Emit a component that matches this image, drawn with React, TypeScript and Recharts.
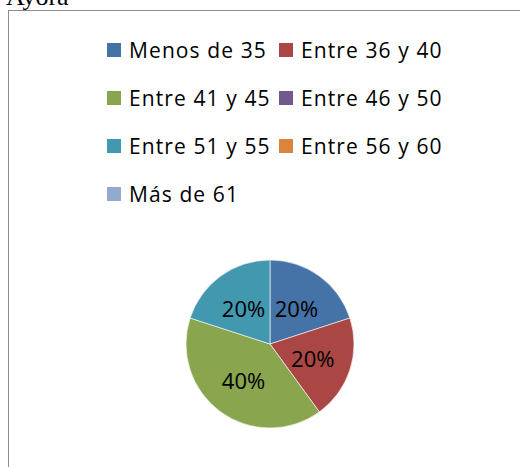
import { PieChart, Pie, Cell, Legend } from "recharts";

const categories = [
  "Menos de 35",
  "Entre 36 y 40",
  "Entre 41 y 45",
  "Entre 46 y 50",
  "Entre 51 y 55",
  "Entre 56 y 60",
  "Más de 61",
];
const counts = [1, 1, 2, 0, 1, 0, 0];
const colors = ["#4572A7", "#AA4643", "#89A54E", "#71588F", "#4198AF", "#DB843D", "#93A9CF"];

const total = counts.reduce((a, b) => a + b, 0);
const data = categories.map((name, i) => ({ name, value: counts[i] }));

const FONT = "'Open Sans', 'Noto Sans', sans-serif";
const RAD = Math.PI / 180;

function renderLabel(props: any) {
  const { cx, cy, midAngle, value } = props;
  if (!value) return null;
  const r = 45;
  const x = cx + r * Math.cos(-midAngle * RAD);
  const y = cy + r * Math.sin(-midAngle * RAD);
  return (
    <text
      x={x}
      y={y}
      textAnchor="middle"
      dominantBaseline="central"
      fill="#000"
      style={{ fontFamily: FONT, fontSize: 22 }}
    >
      {`${Math.round((value / total) * 100)}%`}
    </text>
  );
}

function LegendBox() {
  return (
    <div style={{ position: "relative", width: 500, height: 220 }}>
      {categories.map((name, i) => {
        const col = i % 2;
        const row = Math.floor(i / 2);
        const left = col === 0 ? 107 : 279;
        const top = 50 + row * 48;
        return (
          <div
            key={name}
            style={{
              position: "absolute",
              left,
              top: top - 15,
              height: 30,
              display: "flex",
              alignItems: "center",
              whiteSpace: "nowrap",
            }}
          >
            <span
              style={{
                display: "inline-block",
                width: 14,
                height: 14,
                background: colors[i],
                marginRight: 8,
              }}
            />
            <span
              style={{
                fontFamily: FONT,
                fontSize: 21,
                letterSpacing: 1.1,
                color: "#000",
              }}
            >
              {name}
            </span>
          </div>
        );
      })}
    </div>
  );
}

export default function App() {
  return (
    <div style={{ position: "fixed", left: 0, top: 0, width: 523, height: 467, background: "#fff", overflow: "hidden" }}>
      <div
        style={{
          position: "absolute",
          left: 6,
          top: -18,
          fontFamily: "'Liberation Serif', 'Times New Roman', serif",
          fontSize: 26,
          lineHeight: "30px",
          color: "#000",
        }}
      >
        Ayora
      </div>
      {/* frame: only the top and left edges are in view */}
      <div style={{ position: "absolute", left: 8, top: 10, width: 512, height: 1, background: "#8c8c8c" }} />
      <div style={{ position: "absolute", left: 8, top: 10, width: 1, height: 457, background: "#8c8c8c" }} />
      <div style={{ position: "absolute", left: 0, top: 0 }}>
        <PieChart width={500} height={467} margin={{ top: 0, right: 0, bottom: 0, left: 0 }}>
          <Legend
            content={() => <LegendBox />}
            wrapperStyle={{ position: "absolute", left: 0, top: 0, width: 500 }}
          />
          <Pie
            data={data}
            dataKey="value"
            nameKey="name"
            cx={270}
            cy={344}
            outerRadius={84}
            startAngle={90}
            endAngle={-270}
            stroke="#ffffff"
            strokeWidth={0.6}
            label={renderLabel}
            labelLine={false}
            isAnimationActive={false}
          >
            {data.map((d, i) => (
              <Cell key={d.name} fill={colors[i]} />
            ))}
          </Pie>
        </PieChart>
      </div>
    </div>
  );
}
